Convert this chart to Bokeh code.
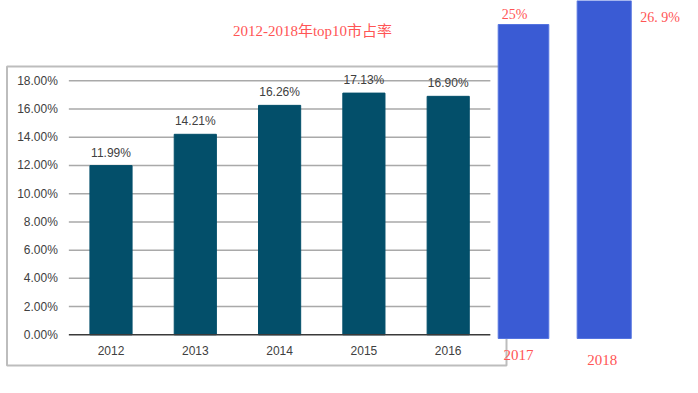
from bokeh.plotting import figure
from bokeh.models import ColumnDataSource, Range1d
from bokeh.core.properties import value
from bokeh.embed import file_html
from bokeh.resources import INLINE

# ---- data ----
years = [2012, 2013, 2014, 2015, 2016]
shares = [11.99, 14.21, 16.26, 17.13, 16.90]
share_labels = ["11.99%", "14.21%", "16.26%", "17.13%", "16.90%"]
y_ticks = [0, 2, 4, 6, 8, 10, 12, 14, 16, 18]
y_tick_labels = ["0.00%", "2.00%", "4.00%", "6.00%", "8.00%", "10.00%",
                 "12.00%", "14.00%", "16.00%", "18.00%"]
new_years = [2017, 2018]
new_shares = [25.0, 26.9]
new_labels = ["25%", "26. 9%"]
title_text = "2012-2018年top10市占率"

W, H = 682, 377

# main scale: 84.3 px per year, 14.11 px per percent
px_year, px_pct = 84.3, 14.11
x0 = 2012 - 110.5 / px_year
y0 = -(H - 334.3) / px_pct
# overlay scale for the hand-added bars: 80.7 px per year, 12.56 px per percent
bx_year, by_pct = 80.7, 12.56
bx0 = 2017 - 523.0 / bx_year
by0 = -(H - 338.0) / by_pct

p = figure(width=W, height=H, output_backend="svg", toolbar_location=None,
           x_range=Range1d(x0, x0 + W / px_year), y_range=Range1d(y0, y0 + H / px_pct),
           min_border=0, background_fill_color="white", border_fill_color="white")
p.extra_x_ranges = {"bx": Range1d(bx0, bx0 + W / bx_year)}
p.extra_y_ranges = {"by": Range1d(by0, by0 + H / by_pct)}
p.axis.visible = False
p.grid.visible = False
p.outline_line_color = None

# outer grey frame of the inner chart
fl = 2012 + (6.5 - 110.5) / px_year
fr = 2012 + (506 - 110.5) / px_year
ft = (334.3 - 66) / px_pct
fb = (334.3 - 365) / px_pct
p.quad(left=[fl], right=[fr], top=[ft], bottom=[fb], fill_color=None,
       line_color="#bdbdbd", line_width=2)

# gridlines
gx0, gx1 = years[0] - 0.5, years[-1] + 0.5
grid_y = [t for t in y_ticks if t > 0]
p.segment(x0=[gx0] * len(grid_y), x1=[gx1] * len(grid_y), y0=grid_y, y1=grid_y,
          line_color="#a9a9a9", line_width=1.5)

# bars
src = ColumnDataSource(dict(x=years, top=shares, lab=share_labels))
p.vbar(x="x", top="top", bottom=0, width=0.5, source=src,
       fill_color="#034f6a", line_color="#034f6a")
p.segment(x0=[gx0], x1=[gx1], y0=[0], y1=[0], line_color="#3a3a3a", line_width=1.5)

# value labels
p.text(x="x", y="top", text="lab", source=src, text_align="center",
       text_baseline="middle", y_offset=-13, text_font=value("Liberation Sans"),
       text_font_size="12px", text_color="#404040")

# y tick labels
tsrc = ColumnDataSource(dict(y=y_ticks, lab=y_tick_labels))
p.text(x=gx0, y="y", text="lab", source=tsrc, text_align="right",
       text_baseline="middle", x_offset=-11, text_font=value("Liberation Sans"),
       text_font_size="12px", text_color="#404040")

# x tick labels
xsrc = ColumnDataSource(dict(x=years, lab=[str(y) for y in years]))
p.text(x="x", y=0, text="lab", source=xsrc, text_align="center",
       text_baseline="middle", y_offset=16, text_font=value("Liberation Sans"),
       text_font_size="12px", text_color="#404040")

# hand-added blue bars
bsrc = ColumnDataSource(dict(x=new_years, top=new_shares, lab=new_labels,
                             ylab=[str(y) for y in new_years],
                             lx=[-9, 36], ly=[-10, 17], la=["center", "left"],
                             yx=[-5, -2], yy=[16, 21], w=[0.627, 0.67]))
p.vbar(x="x", top="top", bottom=0, width="w", source=bsrc,
       x_range_name="bx", y_range_name="by",
       fill_color="#3a5bd4", line_color="#5574e0", line_width=1)

red_font = value("Liberation Serif, Noto Sans CJK SC")
p.text(x="x", y="top", text="lab", source=bsrc, x_range_name="bx", y_range_name="by",
       x_offset="lx", y_offset="ly", text_align="la", text_baseline="middle",
       text_font=red_font, text_font_size="14px", text_color="#ff5555")
p.text(x="x", y=0, text="ylab", source=bsrc, x_range_name="bx", y_range_name="by",
       x_offset="yx", y_offset="yy", text_align="center", text_baseline="middle",
       text_font=red_font, text_font_size="15px", text_color="#ff5555")

# title (red, placed above the chart)
p.text(x=[2012 + (312 - 110.5) / px_year], y=[(334.3 - 30) / px_pct], text=[title_text],
       text_align="center", text_baseline="middle", text_font=red_font,
       text_font_size="15px", text_color="#ff5555")

open("out.html", "w").write(file_html(p, INLINE))
